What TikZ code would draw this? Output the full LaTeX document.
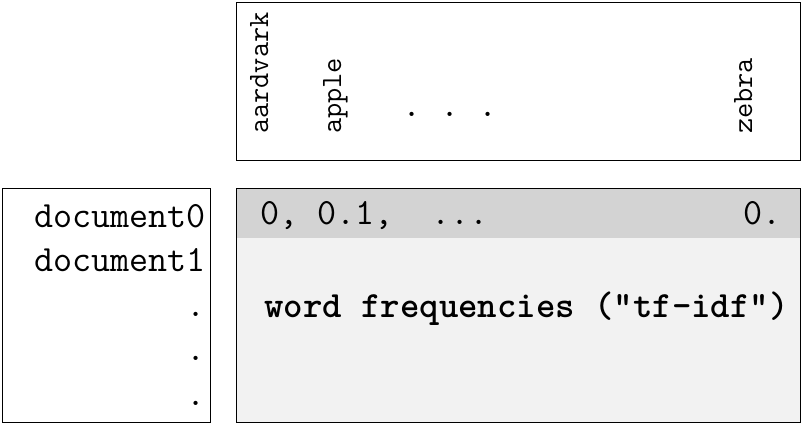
\documentclass[tikz,border=0pt]{standalone}
\usepackage{fontspec}
\definecolor{band}{HTML}{D3D3D3}
\definecolor{panel}{HTML}{F2F2F2}
\tikzset{
  box/.style={draw=black, line width=1pt},
  big/.style={font=\ttfamily\fontsize{37}{41}\selectfont, inner sep=0pt},
  small/.style={font=\ttfamily\fontsize{29.5}{33}\selectfont, inner sep=0pt, rotate=90, anchor=base west},
}
\begin{document}
\begin{tikzpicture}[x=1pt,y=-1pt]
\useasboundingbox (0,0) rectangle (802,424);
% top vocabulary box
\draw[box] (236.5,2.5) rectangle (800.5,160.5);
\node[small] (w1) at (268,134) {aardvark};
\node[small] (w2) at (341,134) {apple};
\node[small] (w3) at (752,134) {zebra};
\node[big, anchor=base] (dots) at (450,116) {.~.~.};
% left document box
\draw[box] (2.5,188.5) rectangle (210.5,422.5);
\node[big, anchor=base east] (d0) at (206,227) {document0};
\node[big, anchor=base east] (d1) at (206,271) {document1};
\node[big, anchor=base east] (e1) at (206,316) {.};
\node[big, anchor=base east] (e2) at (206,360) {.};
\node[big, anchor=base east] (e3) at (206,405) {.};
% matrix box
\fill[panel] (236.5,188.5) rectangle (800.5,422.5);
\fill[band] (236.5,188.5) rectangle (800.5,237.5);
\draw[box] (236.5,188.5) rectangle (800.5,422.5);
\node[big, anchor=base west] (r0) at (260,224) {0, 0.1,~~...};
\node[big, anchor=base east] (r1) at (782,224) {0.};
\node[big, anchor=base west, font=\ttfamily\bfseries\fontsize{37}{41}\selectfont] (lab) at (264,317) {word frequencies ("tf-idf")};
\end{tikzpicture}
\end{document}
